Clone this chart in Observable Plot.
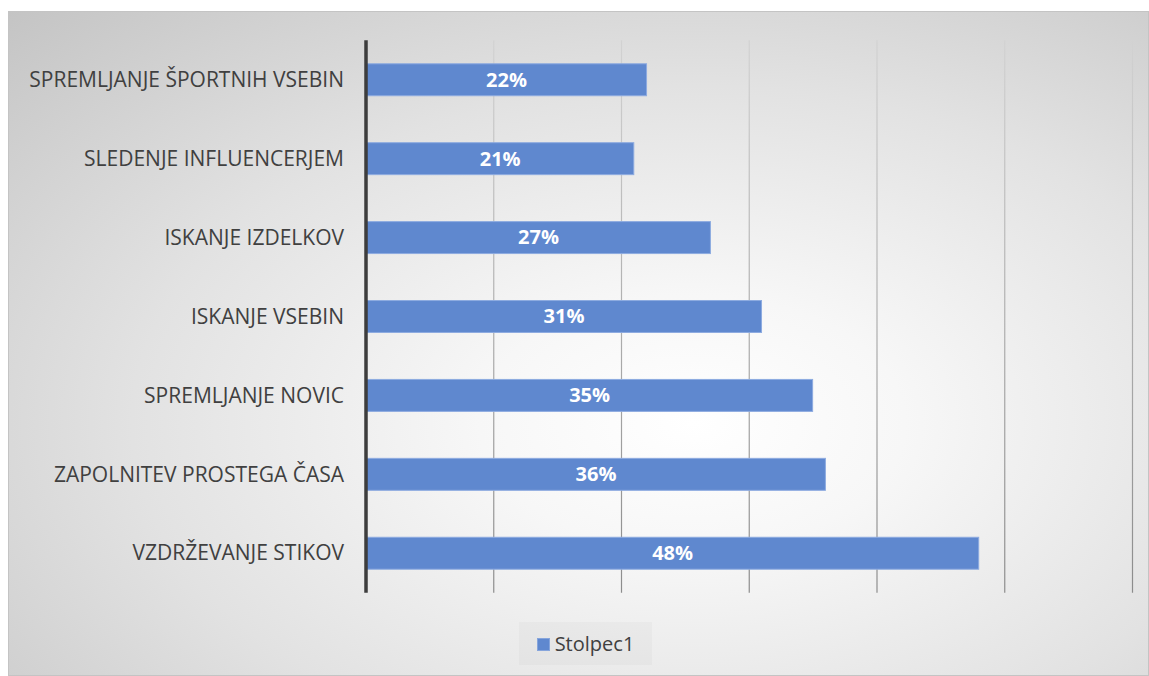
<!DOCTYPE html>
<html>
<head>
<meta charset="utf-8">
<script src="https://cdn.jsdelivr.net/npm/d3@7"></script>
<script src="https://cdn.jsdelivr.net/npm/@observablehq/plot@0.6"></script>
<style>
  html, body { margin: 0; padding: 0; background: #ffffff; }
  #frame {
    position: absolute; left: 8px; top: 11px; width: 1139px; height: 663px;
    border: 1px solid #c4c4c4;
    background: radial-gradient(ellipse farthest-corner at 60% 62%, #ffffff 0%, #f7f7f7 22%, #e2e2e2 58%, #c4c4c4 100%);
    font-family: "Open Sans", sans-serif;
    overflow: hidden;
  }
  #chart { position: absolute; left: 0; top: 0; }
  #legend {
    position: absolute; left: 510px; top: 610px; width: 133px; height: 43px;
    background: rgba(0,0,0,0.025);
    display: flex; align-items: center; justify-content: center;
    font-size: 20px; color: #404040;
  }
  #legend .sw { width: 13px; height: 13px; background: #5f88cf; border: 1px solid #86a5dc; margin-right: 5px; box-sizing: border-box; margin-top: 2px; }
</style>
</head>
<body>
<div id="frame">
  <div id="chart"></div>
  <div id="legend"><span class="sw"></span><span id="legendText"></span></div>
</div>
<script>
const categories = [
  "SPREMLJANJE ŠPORTNIH VSEBIN",
  "SLEDENJE INFLUENCERJEM",
  "ISKANJE IZDELKOV",
  "ISKANJE VSEBIN",
  "SPREMLJANJE NOVIC",
  "ZAPOLNITEV PROSTEGA ČASA",
  "VZDRŽEVANJE STIKOV"
];
const values = [22, 21, 27, 31, 35, 36, 48];
const gridTicks = [10, 20, 30, 40, 50, 60];
const seriesName = "Stolpec1";

document.getElementById("legendText").textContent = seriesName;

const data = categories.map((c, i) => ({ category: c, value: values[i] }));

const H = 600, MT = 28.3, MB = 19.3;

const chart = Plot.plot({
  width: 1139,
  height: H,
  marginLeft: 356.5,
  marginRight: 16,
  marginTop: MT,
  marginBottom: MB,
  style: { background: "transparent", fontFamily: "'Open Sans', sans-serif", overflow: "visible" },
  x: { domain: [0, 60], axis: null },
  y: { domain: categories, paddingInner: 0.595, paddingOuter: 0.2975, round: false, label: null },
  marks: [
    Plot.ruleX(gridTicks, { stroke: "url(#gridGrad)", strokeWidth: 1.2 }),
    Plot.barX(data, { y: "category", x: "value", fill: "#5f88cf", stroke: "#8dabe0", strokeWidth: 1 }),
    Plot.text(data, {
      y: "category", x: d => d.value / 2, text: d => `${d.value}%`,
      fill: "white", fontWeight: "bold", fontSize: 20
    }),
    Plot.ruleX([0], { stroke: "#3d3d3d", strokeWidth: 3.5 }),
    Plot.axisY({ tickSize: 0, tickPadding: 22, fontSize: 21, color: "#404040", label: null })
  ]
});

// vertical gradient for gridlines (lighter at top, darker at bottom)
const svg = d3.select(chart.tagName.toLowerCase() === "svg" ? chart : chart.querySelector("svg"));
const defs = svg.insert("defs", ":first-child");
const g = defs.append("linearGradient").attr("id", "gridGrad")
  .attr("gradientUnits", "userSpaceOnUse")
  .attr("x1", 0).attr("x2", 0).attr("y1", MT).attr("y2", H - MB);
g.append("stop").attr("offset", "0%").attr("stop-color", "#d2d2d2");
g.append("stop").attr("offset", "100%").attr("stop-color", "#8c8c8c");

svg.selectAll("g[aria-label='y-axis tick label']").attr("fill", "#404040");
document.getElementById("chart").appendChild(chart);
</script>
</body>
</html>
